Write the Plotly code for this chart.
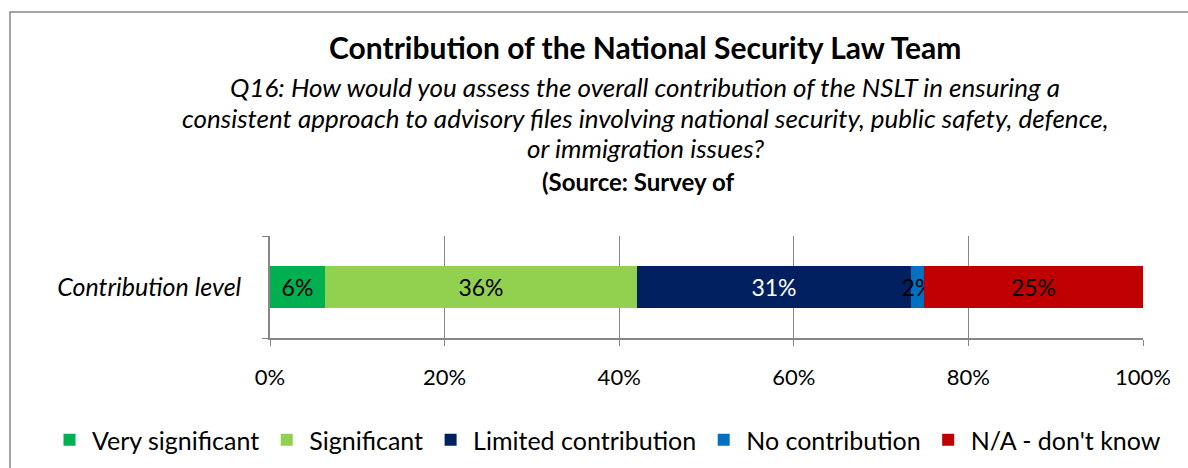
import plotly.graph_objects as go

categories = ["Contribution level"]
series_names = ["Very significant", "Significant", "Limited contribution", "No contribution", "N/A - don't know"]
series_values = [6.3, 35.7, 31.4, 1.5, 25.1]
series_colors = ["#00B050", "#92D050", "#002060", "#0070C0", "#C00000"]
label_colors = ["black", "black", "white", "black", "black"]
tick_vals = [0, 20, 40, 60, 80, 100]
tick_text = ["0%", "20%", "40%", "60%", "80%", "100%"]

title = "Contribution of the National Security Law Team"
subtitle_lines = [
    "Q16: How would you assess the overall contribution of the NSLT in ensuring a",
    "consistent approach to advisory files involving national security, public safety, defence,",
    "or immigration issues?",
]
source = "(Source: Survey of"

FONT = "Lato"
W, H = 1188, 468
L, R, T, B = 270, 1143, 236, 338

fig = go.Figure()
for name, val, col, lc in zip(series_names, series_values, series_colors, label_colors):
    fig.add_trace(go.Bar(
        y=[0], x=[val], name=name, orientation="h", width=0.42,
        marker=dict(color=col, line=dict(width=0)),
        text=[val], texttemplate="%{x:.0f}%", textposition="inside", textangle=0,
        insidetextanchor="middle", constraintext="none",
        textfont=dict(color=lc, size=23, family=FONT),
        hoverinfo="skip",
    ))

def px(x):
    return (x - L) / (R - L)

def py(y):
    return (B - y) / (B - T)

ann = [dict(text="<b>" + title + "</b>", x=px(645), y=py(47), font=dict(size=30))]
for i, line in enumerate(subtitle_lines):
    ann.append(dict(text="<i>" + line + "</i>", x=px(645), y=py(87 + 30.5 * i), font=dict(size=26)))
ann.append(dict(text="<b>" + source + "</b>", x=px(638), y=py(181), font=dict(size=24)))
for a in ann:
    a.update(xref="paper", yref="paper", showarrow=False, xanchor="center", yanchor="middle")
    a["font"].update(family=FONT, color="black")

fig.update_layout(
    width=W, height=H, autosize=False,
    margin=dict(l=L, r=W - R, t=T, b=H - B, autoexpand=False),
    barmode="stack", bargap=0,
    plot_bgcolor="white", paper_bgcolor="white",
    font=dict(family=FONT, size=21, color="black"),
    uniformtext=dict(minsize=23, mode="show"),
    annotations=ann,
    showlegend=True,
    legend=dict(orientation="h", x=px(47), xanchor="left", xref="paper",
                y=py(440), yanchor="middle", yref="paper",
                font=dict(size=25, family=FONT), traceorder="normal",
                itemwidth=35),
    shapes=[dict(type="rect", xref="paper", yref="paper",
                 x0=px(10), x1=px(1200), y0=py(480), y1=py(12),
                 line=dict(color="#868686", width=1.5), fillcolor="rgba(0,0,0,0)", layer="below")],
)
fig.update_xaxes(range=[0, 100], tickvals=tick_vals, ticktext=tick_text,
                 showgrid=True, gridcolor="#868686", gridwidth=1,
                 showline=True, linecolor="#868686", linewidth=1.5,
                 ticks="outside", ticklen=6, tickcolor="#868686", ticklabelstandoff=13,
                 tickfont=dict(size=22, family=FONT), zeroline=False, fixedrange=True)
fig.update_yaxes(range=[-0.5, 0.5], tickvals=[0], ticktext=["<i>" + categories[0] + "</i>"],
                 showgrid=False, zeroline=False, showline=True, linecolor="#868686", linewidth=1.5,
                 ticks="", ticklabelstandoff=22,
                 minor=dict(tickvals=[-0.5, 0.5], ticks="outside", ticklen=6, tickcolor="#868686"),
                 tickfont=dict(size=25, family=FONT), fixedrange=True)

fig.write_html("out.html")
